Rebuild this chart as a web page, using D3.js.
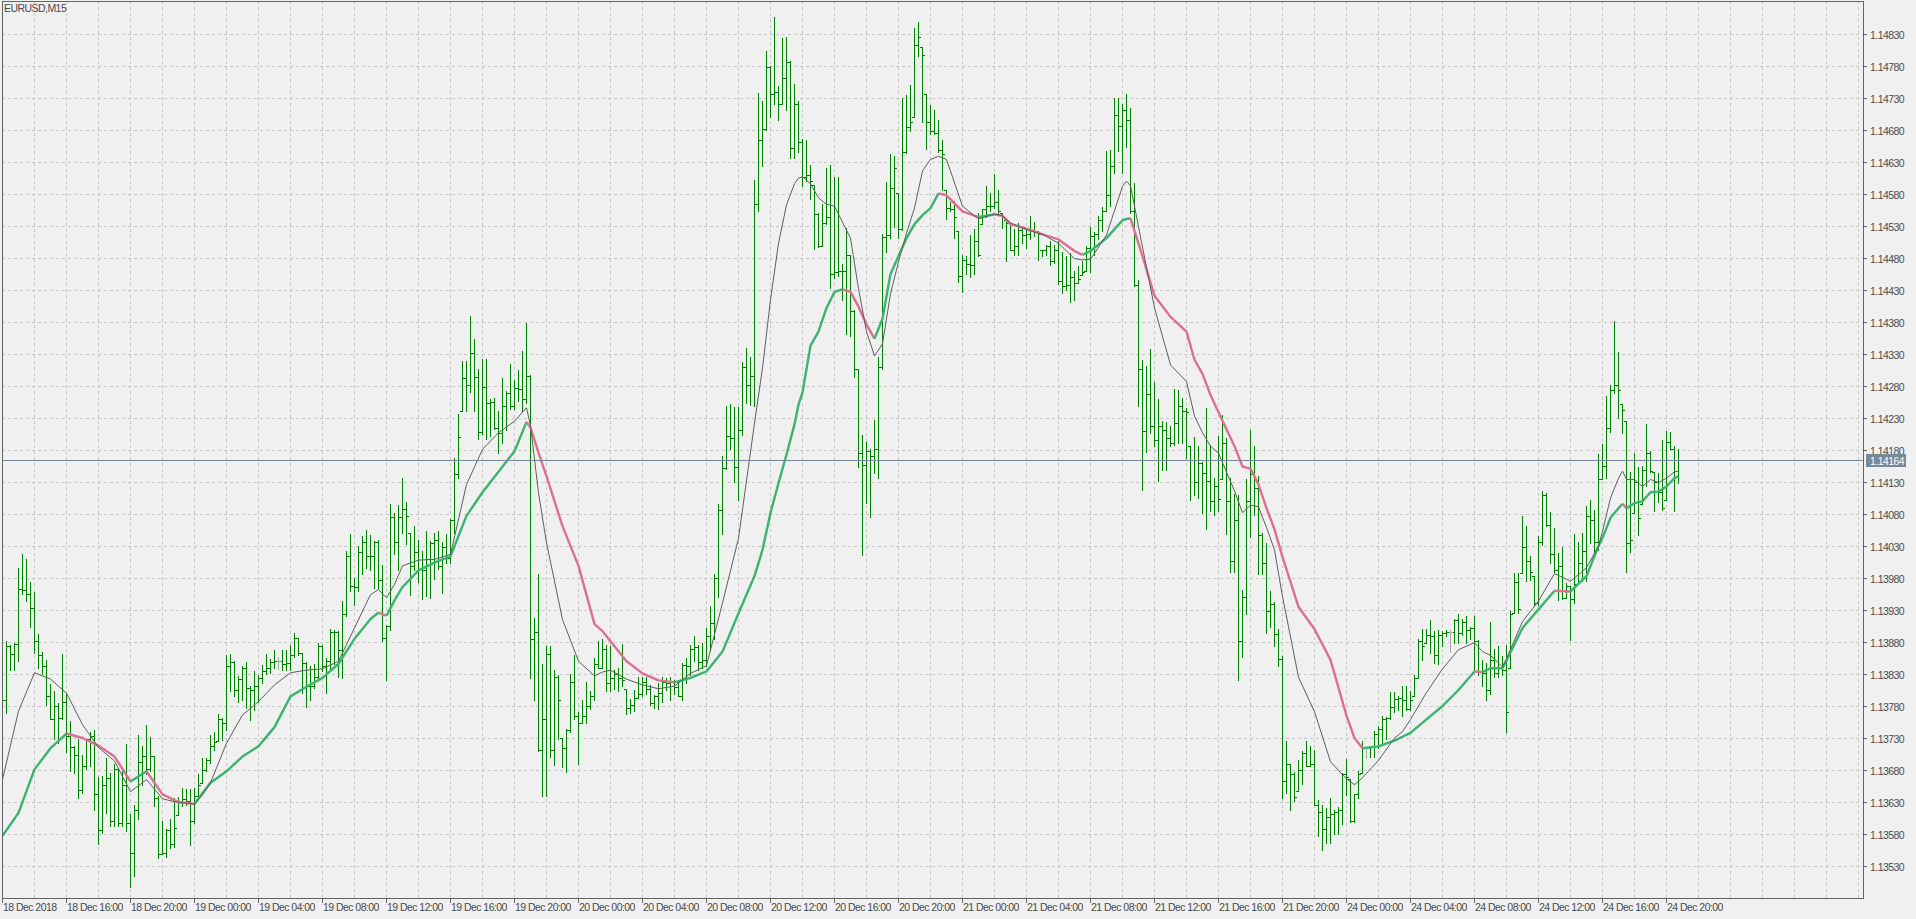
<!DOCTYPE html>
<html><head><meta charset="utf-8">
<script src="https://cdn.jsdelivr.net/npm/d3@7"></script>
<style>
html,body{margin:0;padding:0;background:#f0f0f0;overflow:hidden}
svg{display:block}
text{font-family:"Liberation Sans",Arial,sans-serif;font-size:10.5px;letter-spacing:-0.55px;fill:#4a4a4a}
</style></head><body>
<svg id="c" width="1916" height="919"></svg>
<script>
const symbolLabel = "EURUSD,M15";
const timeLabels = ["18 Dec 2018","18 Dec 16:00","18 Dec 20:00","19 Dec 00:00","19 Dec 04:00","19 Dec 08:00","19 Dec 12:00","19 Dec 16:00","19 Dec 20:00","20 Dec 00:00","20 Dec 04:00","20 Dec 08:00","20 Dec 12:00","20 Dec 16:00","20 Dec 20:00","21 Dec 00:00","21 Dec 04:00","21 Dec 08:00","21 Dec 12:00","21 Dec 16:00","21 Dec 20:00","24 Dec 00:00","24 Dec 04:00","24 Dec 08:00","24 Dec 12:00","24 Dec 16:00","24 Dec 20:00"];
const priceTicks = [1.14830,1.14780,1.14730,1.14680,1.14630,1.14580,1.14530,1.14480,1.14430,1.14380,1.14330,1.14280,1.14230,1.14180,1.14130,1.14080,1.14030,1.13980,1.13930,1.13880,1.13830,1.13780,1.13730,1.13680,1.13630,1.13580,1.13530];
const bidPrice = 1.14164;

const opens = [
1.13760,1.13790,1.13874,1.13861,1.13877,1.13963,1.13961,1.13955,1.13933,1.13881,1.13859,1.13842,1.13795,1.13760,1.13780,1.13761,1.13786,1.13733,1.13716,1.13704,
1.13649,1.13686,1.13728,1.13733,1.13643,1.13586,1.13656,1.13667,1.13601,1.13681,1.13597,1.13657,1.13597,1.13550,1.13618,1.13692,1.13702,1.13681,1.13702,1.13636,
1.13549,1.13551,1.13587,1.13565,1.13610,1.13632,1.13634,1.13632,1.13600,1.13639,1.13659,1.13680,1.13695,1.13717,1.13725,1.13759,1.13753,1.13842,1.13849,1.13805,
1.13822,1.13839,1.13808,1.13805,1.13812,1.13824,1.13835,1.13840,1.13849,1.13850,1.13850,1.13846,1.13847,1.13860,1.13886,1.13863,1.13847,1.13812,1.13811,1.13826,
1.13873,1.13842,1.13850,1.13896,1.13895,1.13868,1.13924,1.14015,1.13968,1.13966,1.14020,1.14037,1.14015,1.14014,1.14037,1.13977,1.13886,1.13905,1.14076,1.14037,
1.14076,1.14088,1.14051,1.13999,1.14020,1.13994,1.13993,1.14009,1.14034,1.14040,1.13999,1.14029,1.14012,1.14071,1.14143,1.14241,1.14292,1.14281,1.14332,1.14294,
1.14208,1.14279,1.14254,1.14255,1.14215,1.14206,1.14248,1.14269,1.14249,1.14277,1.14275,1.14259,1.14296,1.13884,1.13896,1.13712,1.13760,1.13862,1.13712,1.13826,
1.13730,1.13714,1.13743,1.13817,1.13764,1.13754,1.13764,1.13780,1.13796,1.13845,1.13840,1.13869,1.13816,1.13824,1.13830,1.13824,1.13807,1.13777,1.13781,1.13793,
1.13798,1.13818,1.13806,1.13784,1.13795,1.13800,1.13818,1.13816,1.13818,1.13810,1.13795,1.13844,1.13842,1.13869,1.13872,1.13849,1.13852,1.13889,1.13910,1.13980,
1.14086,1.14152,1.14202,1.14199,1.14154,1.14212,1.14310,1.14282,1.14295,1.14564,1.14665,1.14682,1.14778,1.14736,1.14740,1.14721,1.14761,1.14786,1.14652,1.14721,
1.14661,1.14607,1.14610,1.14594,1.14549,1.14499,1.14535,1.14544,1.14455,1.14458,1.14460,1.14459,1.14485,1.14397,1.14307,1.14175,1.14157,1.14178,1.14171,1.14181,
1.14309,1.14513,1.14516,1.14589,1.14582,1.14526,1.14645,1.14685,1.14701,1.14813,1.14810,1.14737,1.14692,1.14678,1.14676,1.14648,1.14586,1.14558,1.14557,1.14522,
1.14452,1.14477,1.14470,1.14469,1.14506,1.14533,1.14557,1.14561,1.14562,1.14567,1.14550,1.14540,1.14534,1.14492,1.14498,1.14524,1.14516,1.14518,1.14524,1.14522,
1.14493,1.14492,1.14498,1.14475,1.14493,1.14444,1.14436,1.14438,1.14451,1.14441,1.14454,1.14459,1.14496,1.14514,1.14518,1.14539,1.14554,1.14579,1.14623,1.14704,
1.14686,1.14712,1.14696,1.14553,1.14438,1.14306,1.14210,1.14267,1.14217,1.14196,1.14217,1.14211,1.14199,1.14191,1.14222,1.14248,1.14241,1.14186,1.14165,1.14130,
1.14160,1.14144,1.14132,1.14101,1.14124,1.14134,1.14191,1.14101,1.14007,1.14070,1.13882,1.13950,1.14101,1.14143,1.14121,1.14047,1.14004,1.13929,1.13940,1.13892,
1.13853,1.13663,1.13689,1.13674,1.13647,1.13680,1.13706,1.13687,1.13689,1.13626,1.13614,1.13588,1.13606,1.13612,1.13614,1.13617,1.13674,1.13666,1.13601,1.13642,
1.13675,1.13714,1.13714,1.13716,1.13736,1.13744,1.13760,1.13761,1.13778,1.13791,1.13792,1.13789,1.13775,1.13795,1.13824,1.13882,1.13878,1.13891,1.13889,1.13860,
1.13891,1.13894,1.13895,1.13895,1.13915,1.13894,1.13912,1.13899,1.13902,1.13881,1.13834,1.13832,1.13805,1.13852,1.13832,1.13841,1.13837,1.13840,1.13925,1.13973,
1.13988,1.14029,1.14007,1.13983,1.13941,1.14036,1.14109,1.14063,1.14018,1.13993,1.13998,1.13949,1.13967,1.13947,1.13970,1.14003,1.14022,1.14077,1.14071,1.14036,
1.14135,1.14155,1.14214,1.14274,1.14282,1.14252,1.14226,1.14035,1.14082,1.14130,1.14096,1.14149,1.14175,1.14146,1.14130,1.14115,1.14102,1.14192,1.14182,1.14165];

const highs = [
1.13800,1.13881,1.13876,1.13879,1.13995,1.14018,1.14009,1.13974,1.13958,1.13893,1.13865,1.13852,1.13815,1.13803,1.13784,1.13861,1.13800,1.13756,1.13717,1.13728,
1.13704,1.13729,1.13740,1.13743,1.13669,1.13670,1.13699,1.13675,1.13690,1.13683,1.13679,1.13721,1.13612,1.13626,1.13735,1.13718,1.13750,1.13731,1.13702,1.13640,
1.13601,1.13588,1.13603,1.13636,1.13638,1.13652,1.13651,1.13651,1.13652,1.13673,1.13699,1.13699,1.13734,1.13739,1.13767,1.13761,1.13859,1.13861,1.13850,1.13827,
1.13842,1.13848,1.13811,1.13834,1.13829,1.13844,1.13862,1.13853,1.13868,1.13857,1.13868,1.13868,1.13875,1.13894,1.13887,1.13863,1.13848,1.13842,1.13845,1.13878,
1.13875,1.13855,1.13900,1.13898,1.13897,1.13944,1.14022,1.14048,1.13980,1.14030,1.14045,1.14055,1.14047,1.14038,1.14040,1.14001,1.13907,1.14096,1.14082,1.14094,
1.14137,1.14099,1.14051,1.14061,1.14040,1.14022,1.14054,1.14038,1.14051,1.14053,1.14037,1.14048,1.14072,1.14168,1.14236,1.14319,1.14319,1.14389,1.14354,1.14306,
1.14322,1.14322,1.14260,1.14261,1.14241,1.14292,1.14272,1.14315,1.14289,1.14305,1.14335,1.14378,1.14297,1.13918,1.13987,1.13845,1.13874,1.13874,1.13837,1.13828,
1.13730,1.13744,1.13830,1.13859,1.13770,1.13790,1.13818,1.13804,1.13855,1.13882,1.13885,1.13876,1.13873,1.13837,1.13839,1.13877,1.13807,1.13791,1.13805,1.13826,
1.13825,1.13825,1.13813,1.13797,1.13816,1.13825,1.13824,1.13825,1.13821,1.13821,1.13847,1.13855,1.13876,1.13890,1.13875,1.13879,1.13902,1.13937,1.13987,1.14095,
1.14171,1.14248,1.14252,1.14247,1.14247,1.14318,1.14340,1.14326,1.14602,1.14738,1.14726,1.14804,1.14780,1.14856,1.14749,1.14823,1.14825,1.14788,1.14752,1.14726,
1.14666,1.14664,1.14625,1.14594,1.14550,1.14565,1.14620,1.14625,1.14606,1.14606,1.14470,1.14527,1.14485,1.14398,1.14307,1.14203,1.14192,1.14181,1.14227,1.14325,
1.14517,1.14599,1.14642,1.14639,1.14582,1.14730,1.14734,1.14751,1.14839,1.14848,1.14810,1.14737,1.14719,1.14712,1.14695,1.14665,1.14586,1.14568,1.14569,1.14522,
1.14484,1.14483,1.14516,1.14525,1.14550,1.14557,1.14593,1.14581,1.14611,1.14586,1.14550,1.14540,1.14535,1.14526,1.14535,1.14529,1.14527,1.14546,1.14537,1.14522,
1.14493,1.14500,1.14506,1.14500,1.14506,1.14490,1.14483,1.14488,1.14459,1.14467,1.14475,1.14499,1.14529,1.14521,1.14546,1.14560,1.14647,1.14648,1.14730,1.14730,
1.14720,1.14737,1.14714,1.14597,1.14446,1.14321,1.14312,1.14338,1.14287,1.14259,1.14225,1.14224,1.14217,1.14275,1.14273,1.14262,1.14245,1.14186,1.14200,1.14186,
1.14161,1.14246,1.14188,1.14137,1.14202,1.14234,1.14199,1.14136,1.14111,1.14110,1.13962,1.14134,1.14211,1.14186,1.14139,1.14051,1.14035,1.13960,1.13942,1.13900,
1.13858,1.13726,1.13690,1.13677,1.13695,1.13709,1.13726,1.13717,1.13711,1.13633,1.13625,1.13620,1.13636,1.13617,1.13622,1.13676,1.13697,1.13666,1.13643,1.13679,
1.13726,1.13714,1.13718,1.13741,1.13748,1.13765,1.13763,1.13802,1.13802,1.13795,1.13811,1.13811,1.13803,1.13829,1.13884,1.13900,1.13900,1.13915,1.13897,1.13899,
1.13897,1.13898,1.13899,1.13916,1.13923,1.13916,1.13920,1.13904,1.13920,1.13883,1.13852,1.13847,1.13911,1.13869,1.13874,1.13858,1.13876,1.13928,1.13988,1.13988,
1.14077,1.14062,1.14015,1.13983,1.14045,1.14116,1.14113,1.14083,1.14058,1.14019,1.14028,1.13972,1.13968,1.14048,1.14036,1.14050,1.14093,1.14102,1.14087,1.14173,
1.14190,1.14265,1.14282,1.14382,1.14333,1.14252,1.14226,1.14146,1.14175,1.14154,1.14155,1.14220,1.14178,1.14146,1.14144,1.14195,1.14210,1.14208,1.14187,1.14182];

const lows = [
1.13740,1.13769,1.13837,1.13837,1.13850,1.13955,1.13944,1.13904,1.13863,1.13840,1.13830,1.13782,1.13759,1.13728,1.13722,1.13759,1.13708,1.13678,1.13675,1.13637,
1.13644,1.13681,1.13686,1.13617,1.13565,1.13582,1.13613,1.13592,1.13592,1.13592,1.13593,1.13584,1.13497,1.13514,1.13604,1.13656,1.13673,1.13678,1.13623,1.13543,
1.13548,1.13544,1.13558,1.13560,1.13610,1.13623,1.13626,1.13563,1.13597,1.13634,1.13659,1.13678,1.13691,1.13712,1.13725,1.13727,1.13743,1.13803,1.13795,1.13786,
1.13790,1.13777,1.13758,1.13774,1.13786,1.13816,1.13830,1.13831,1.13839,1.13838,1.13837,1.13837,1.13837,1.13857,1.13860,1.13800,1.13778,1.13790,1.13808,1.13822,
1.13834,1.13801,1.13838,1.13846,1.13826,1.13823,1.13920,1.13959,1.13938,1.13960,1.13987,1.13995,1.13993,1.13964,1.13964,1.13881,1.13820,1.13899,1.14017,1.13993,
1.14051,1.14033,1.13953,1.13993,1.13973,1.13947,1.13952,1.13949,1.13979,1.13994,1.13956,1.14004,1.14004,1.14051,1.14137,1.14241,1.14241,1.14270,1.14241,1.14197,
1.14205,1.14197,1.14202,1.14213,1.14176,1.14191,1.14212,1.14244,1.14244,1.14257,1.14241,1.14254,1.13824,1.13790,1.13710,1.13639,1.13639,1.13701,1.13688,1.13728,
1.13684,1.13677,1.13740,1.13759,1.13689,1.13753,1.13754,1.13775,1.13790,1.13840,1.13839,1.13803,1.13803,1.13806,1.13803,1.13811,1.13768,1.13769,1.13772,1.13793,
1.13795,1.13798,1.13782,1.13777,1.13775,1.13787,1.13805,1.13790,1.13798,1.13795,1.13790,1.13816,1.13829,1.13850,1.13837,1.13839,1.13842,1.13866,1.13884,1.13950,
1.14049,1.14150,1.14181,1.14130,1.14102,1.14203,1.14253,1.14251,1.14248,1.14553,1.14623,1.14680,1.14701,1.14720,1.14695,1.14720,1.14711,1.14636,1.14637,1.14645,
1.14593,1.14600,1.14572,1.14494,1.14497,1.14499,1.14533,1.14433,1.14449,1.14452,1.14414,1.14362,1.14358,1.14294,1.14153,1.14016,1.14097,1.14076,1.14144,1.14136,
1.14307,1.14490,1.14511,1.14529,1.14511,1.14524,1.14644,1.14678,1.14701,1.14796,1.14692,1.14650,1.14673,1.14673,1.14645,1.14586,1.14541,1.14553,1.14511,1.14443,
1.14427,1.14455,1.14450,1.14455,1.14483,1.14533,1.14544,1.14553,1.14558,1.14550,1.14527,1.14475,1.14492,1.14485,1.14484,1.14503,1.14496,1.14509,1.14514,1.14477,
1.14483,1.14485,1.14469,1.14472,1.14440,1.14425,1.14430,1.14411,1.14415,1.14441,1.14454,1.14459,1.14458,1.14485,1.14509,1.14522,1.14553,1.14561,1.14613,1.14647,
1.14613,1.14654,1.14550,1.14437,1.14248,1.14117,1.14177,1.14207,1.14187,1.14132,1.14149,1.14148,1.14186,1.14188,1.14191,1.14191,1.14168,1.14102,1.14110,1.14105,
1.14081,1.14056,1.14084,1.14078,1.14085,1.14134,1.14048,1.13989,1.13989,1.13820,1.13856,1.13924,1.14044,1.14078,1.13986,1.13986,1.13894,1.13904,1.13873,1.13842,
1.13636,1.13644,1.13617,1.13631,1.13647,1.13658,1.13686,1.13686,1.13625,1.13577,1.13555,1.13566,1.13566,1.13580,1.13580,1.13596,1.13641,1.13598,1.13598,1.13636,
1.13675,1.13698,1.13701,1.13701,1.13714,1.13720,1.13728,1.13760,1.13771,1.13773,1.13764,1.13774,1.13774,1.13795,1.13824,1.13852,1.13878,1.13863,1.13847,1.13845,
1.13873,1.13890,1.13864,1.13878,1.13879,1.13891,1.13878,1.13884,1.13837,1.13829,1.13811,1.13789,1.13799,1.13825,1.13826,1.13829,1.13739,1.13840,1.13925,1.13925,
1.13988,1.13975,1.13977,1.13936,1.13938,1.14032,1.14061,1.14004,1.13990,1.13946,1.13947,1.13949,1.13883,1.13941,1.13970,1.13975,1.13975,1.14035,1.14019,1.14024,
1.14134,1.14136,1.14208,1.14269,1.14230,1.14207,1.13989,1.14021,1.14082,1.14047,1.14096,1.14123,1.14146,1.14084,1.14099,1.14086,1.14102,1.14181,1.14084,1.14129];

const closes = [
1.13790,1.13874,1.13861,1.13877,1.13963,1.13961,1.13955,1.13933,1.13881,1.13859,1.13842,1.13795,1.13760,1.13780,1.13761,1.13786,1.13733,1.13716,1.13704,1.13649,
1.13686,1.13728,1.13733,1.13643,1.13586,1.13656,1.13667,1.13601,1.13681,1.13597,1.13657,1.13597,1.13550,1.13618,1.13692,1.13702,1.13681,1.13702,1.13636,1.13549,
1.13551,1.13587,1.13565,1.13590,1.13632,1.13634,1.13632,1.13600,1.13639,1.13657,1.13680,1.13695,1.13717,1.13723,1.13759,1.13753,1.13842,1.13849,1.13805,1.13822,
1.13839,1.13808,1.13805,1.13812,1.13824,1.13835,1.13840,1.13849,1.13850,1.13850,1.13846,1.13847,1.13860,1.13886,1.13863,1.13847,1.13812,1.13811,1.13826,1.13873,
1.13842,1.13850,1.13896,1.13895,1.13868,1.13924,1.14015,1.13968,1.13966,1.14020,1.14037,1.14015,1.14014,1.14037,1.13977,1.13886,1.13905,1.14076,1.14037,1.14076,
1.14088,1.14077,1.13999,1.14020,1.13994,1.13993,1.14009,1.14034,1.14040,1.13999,1.14029,1.14012,1.14071,1.14143,1.14201,1.14292,1.14281,1.14332,1.14294,1.14208,
1.14279,1.14254,1.14255,1.14215,1.14206,1.14248,1.14269,1.14249,1.14277,1.14275,1.14259,1.14296,1.13884,1.13896,1.13712,1.13760,1.13862,1.13712,1.13826,1.13790,
1.13714,1.13743,1.13817,1.13764,1.13754,1.13764,1.13780,1.13796,1.13845,1.13840,1.13869,1.13816,1.13824,1.13830,1.13824,1.13821,1.13777,1.13781,1.13793,1.13798,
1.13818,1.13806,1.13784,1.13795,1.13800,1.13818,1.13816,1.13818,1.13810,1.13795,1.13844,1.13842,1.13869,1.13872,1.13849,1.13852,1.13889,1.13910,1.13980,1.14086,
1.14152,1.14202,1.14199,1.14154,1.14212,1.14310,1.14282,1.14295,1.14564,1.14665,1.14682,1.14778,1.14736,1.14740,1.14721,1.14761,1.14786,1.14652,1.14721,1.14661,
1.14607,1.14610,1.14601,1.14549,1.14498,1.14535,1.14544,1.14455,1.14458,1.14460,1.14459,1.14485,1.14397,1.14307,1.14175,1.14157,1.14178,1.14171,1.14181,1.14309,
1.14513,1.14516,1.14589,1.14621,1.14526,1.14645,1.14685,1.14692,1.14813,1.14825,1.14797,1.14692,1.14678,1.14676,1.14648,1.14642,1.14558,1.14557,1.14544,1.14452,
1.14477,1.14470,1.14469,1.14506,1.14484,1.14557,1.14561,1.14562,1.14567,1.14553,1.14544,1.14534,1.14492,1.14498,1.14524,1.14516,1.14518,1.14524,1.14522,1.14518,
1.14492,1.14498,1.14475,1.14493,1.14444,1.14436,1.14438,1.14451,1.14441,1.14447,1.14458,1.14496,1.14514,1.14518,1.14539,1.14554,1.14579,1.14623,1.14704,1.14686,
1.14712,1.14696,1.14553,1.14438,1.14306,1.14210,1.14267,1.14217,1.14196,1.14217,1.14211,1.14199,1.14191,1.14222,1.14248,1.14241,1.14239,1.14165,1.14130,1.14160,
1.14144,1.14132,1.14101,1.14124,1.14103,1.14191,1.14101,1.14007,1.14070,1.13882,1.13950,1.14101,1.14143,1.14121,1.14047,1.14004,1.13929,1.13940,1.13892,1.13853,
1.13663,1.13689,1.13674,1.13638,1.13680,1.13706,1.13687,1.13689,1.13626,1.13614,1.13588,1.13606,1.13612,1.13614,1.13617,1.13674,1.13669,1.13601,1.13642,1.13674,
1.13714,1.13714,1.13716,1.13736,1.13744,1.13760,1.13761,1.13778,1.13791,1.13792,1.13789,1.13775,1.13790,1.13824,1.13882,1.13874,1.13891,1.13889,1.13860,1.13891,
1.13894,1.13895,1.13895,1.13915,1.13894,1.13912,1.13899,1.13902,1.13881,1.13834,1.13832,1.13805,1.13852,1.13832,1.13841,1.13837,1.13770,1.13924,1.13973,1.13932,
1.14029,1.14007,1.13990,1.13941,1.14036,1.14109,1.14063,1.14018,1.13993,1.13998,1.13949,1.13967,1.13947,1.13970,1.14003,1.14022,1.14077,1.14071,1.14036,1.14135,
1.14155,1.14214,1.14274,1.14282,1.14274,1.14243,1.14035,1.14040,1.14130,1.14074,1.14149,1.14175,1.14147,1.14130,1.14115,1.14090,1.14192,1.14182,1.14165,1.14164];

// moving averages at these bar positions
const maIndex = [0,4,8,12,16,20,24,28,32,36,40,44,48,50,52,56,60,64,68,72,76,80,84,88,92,94,96,98,
100,104,108,112,116,120,124,128,131,132,134,136,140,144,148,
150,152,156,160,164,168,172,176,180,184,188,190,192,194,196,198,199,
200,202,204,206,208,210,212,214,216,218,220,222,224,226,228,230,232,234,236,240,244,248,
250,252,256,260,264,268,270,272,276,280,281,282,284,288,292,296,298,
300,302,304,308,310,312,314,316,318,320,324,328,332,336,338,340,344,348,
350,352,356,360,364,368,370,372,375,376,380,384,388,392,396,399,
400,402,404,405,406,408,410,412,414,416,418,419];
const maFast = [1.13665,1.13772,1.13832,1.13822,1.13800,1.13751,1.13715,1.13694,1.13646,1.13665,1.13635,1.13629,1.13627,1.13641,1.13660,1.13722,1.13766,1.13787,1.13813,1.13832,1.13836,1.13838,1.13850,1.13902,1.13954,1.13962,1.13949,1.13970,
1.13999,1.14008,1.14009,1.14017,1.14126,1.14181,1.14207,1.14225,1.14246,1.14218,1.14113,1.14035,1.13915,1.13850,1.13827,
1.13833,1.13836,1.13822,1.13813,1.13807,1.13811,1.13831,1.13843,1.13941,1.14042,1.14222,1.14308,1.14415,1.14503,1.14563,1.14596,1.14605,
1.14607,1.14596,1.14574,1.14564,1.14561,1.14536,1.14511,1.14432,1.14365,1.14327,1.14346,1.14424,1.14474,1.14519,1.14558,1.14616,1.14634,1.14639,1.14634,1.14561,1.14541,1.14549,
1.14546,1.14535,1.14524,1.14517,1.14503,1.14479,1.14477,1.14478,1.14516,1.14592,1.14600,1.14593,1.14529,1.14402,1.14313,1.14287,1.14233,
1.14207,1.14186,1.14175,1.14116,1.14082,1.14094,1.14091,1.14059,1.14024,1.13951,1.13825,1.13771,1.13693,1.13666,1.13657,1.13668,1.13695,1.13730,
1.13740,1.13759,1.13801,1.13838,1.13868,1.13879,1.13865,1.13859,1.13841,1.13854,1.13912,1.13944,1.13987,1.13975,1.13996,1.14030,
1.14053,1.14105,1.14136,1.14147,1.14134,1.14134,1.14123,1.14134,1.14129,1.14136,1.14146,1.14147];
const maSlow = [1.13577,1.13613,1.13681,1.13714,1.13737,1.13730,1.13718,1.13701,1.13662,1.13678,1.13642,1.13630,1.13627,1.13644,1.13660,1.13678,1.13701,1.13717,1.13747,1.13795,1.13810,1.13824,1.13846,1.13885,1.13916,1.13926,1.13921,1.13945,
1.13966,1.13992,1.14004,1.14014,1.14077,1.14114,1.14146,1.14178,1.14224,1.14215,1.14176,1.14139,1.14061,1.13999,1.13908,
1.13897,1.13881,1.13850,1.13831,1.13820,1.13817,1.13824,1.13834,1.13865,1.13925,1.13983,1.14024,1.14082,1.14128,1.14173,1.14220,1.14251,
1.14270,1.14343,1.14365,1.14402,1.14427,1.14431,1.14427,1.14404,1.14376,1.14354,1.14385,1.14455,1.14483,1.14511,1.14533,1.14547,1.14558,1.14581,1.14578,1.14553,1.14544,1.14548,
1.14546,1.14533,1.14526,1.14517,1.14509,1.14491,1.14485,1.14491,1.14511,1.14539,1.14541,1.14542,1.14503,1.14421,1.14388,1.14365,1.14321,
1.14299,1.14266,1.14239,1.14186,1.14154,1.14151,1.14126,1.14089,1.14056,1.14013,1.13935,1.13900,1.13852,1.13765,1.13730,1.13714,1.13717,1.13726,
1.13732,1.13738,1.13759,1.13780,1.13805,1.13834,1.13833,1.13839,1.13839,1.13851,1.13902,1.13931,1.13960,1.13959,1.13983,1.14030,
1.14043,1.14074,1.14089,1.14096,1.14089,1.14097,1.14100,1.14114,1.14115,1.14123,1.14136,1.14139];

// ---------- drawing ----------
const W = 1916, H = 919;
const L = 2, R = 1863, T = 1, B = 898;
const COL = {bg:"#f0f0f0", grid:"#c8c8c8", frame:"#646464", bar:"#008000", doji:"#a8a8a8",
             fast:"#5e5e5e", up:"#3cb371", down:"#db7093", bid:"#778899", text:"#4a4a4a"};

const svg = d3.select("#c");
const n = closes.length;
const x = d3.scaleLinear().domain([0, n - 1]).range([L, L + 4 * (n - 1)]);
const y = d3.scaleLinear().domain([1.1348, 1.1483]).range([B, 34]);
const py = p => Math.round(y(p));

svg.append("rect").attr("width", W).attr("height", H).attr("fill", COL.bg);

svg.append("defs").append("clipPath").attr("id", "plot")
  .append("rect").attr("x", L + 1).attr("y", T + 1).attr("width", R - L - 1).attr("height", B - T - 1);

// grid
const grid = svg.append("g").attr("stroke", COL.grid).attr("stroke-width", 1)
  .attr("stroke-dasharray", "3,3").attr("shape-rendering", "crispEdges");
grid.selectAll("line.h").data(priceTicks).join("line").attr("class", "h")
  .attr("x1", L).attr("x2", R).attr("y1", d => py(d) + 0.5).attr("y2", d => py(d) + 0.5);
const vIdx = d3.range(8, 480, 8).filter(i => x(i) < R - 1);
grid.selectAll("line.v").data(vIdx).join("line").attr("class", "v")
  .attr("x1", d => x(d) + 0.5).attr("x2", d => x(d) + 0.5).attr("y1", T).attr("y2", B);

// bars
const plot = svg.append("g").attr("clip-path", "url(#plot)");
const bars = plot.append("g").attr("shape-rendering", "crispEdges");
const idx = d3.range(n);
const barColor = i => opens[i] === closes[i] ? COL.doji : COL.bar;
bars.selectAll("rect.hl").data(idx).join("rect").attr("class", "hl")
  .attr("x", i => x(i)).attr("width", 1)
  .attr("y", i => py(highs[i]))
  .attr("height", i => Math.max(1, py(lows[i]) - py(highs[i]) + 1))
  .attr("fill", barColor);
bars.selectAll("rect.o").data(idx).join("rect").attr("class", "o")
  .attr("x", i => x(i) - 2).attr("width", 2).attr("y", i => py(opens[i])).attr("height", 1)
  .attr("fill", barColor);
bars.selectAll("rect.c").data(idx).join("rect").attr("class", "c")
  .attr("x", i => x(i) + 1).attr("width", 2).attr("y", i => py(closes[i])).attr("height", 1)
  .attr("fill", barColor);

// moving averages
const slowPts = maIndex.map((i, k) => ({i, v: maSlow[k]}));
const fastPts = maIndex.map((i, k) => ({i, v: maFast[k]}));
const line = d3.line().x(d => x(d.i) + 0.5).y(d => y(d.v));
let runs = [];
for (let k = 0; k < slowPts.length - 1; k++) {
  const c = slowPts[k + 1].v < slowPts[k].v ? COL.down : COL.up;
  if (runs.length && runs[runs.length - 1].c === c) runs[runs.length - 1].pts.push(slowPts[k + 1]);
  else runs.push({c, pts: [slowPts[k], slowPts[k + 1]]});
}
plot.append("g").selectAll("path").data(runs).join("path")
  .attr("d", r => line(r.pts)).attr("fill", "none").attr("stroke", r => r.c)
  .attr("stroke-width", 2.4).attr("stroke-linejoin", "round");
plot.append("path").attr("d", line(fastPts)).attr("fill", "none")
  .attr("stroke", COL.fast).attr("stroke-width", 1);

// bid line
plot.append("line").attr("x1", L).attr("x2", R).attr("y1", py(bidPrice) + 0.5).attr("y2", py(bidPrice) + 0.5)
  .attr("stroke", COL.bid).attr("stroke-width", 1).attr("shape-rendering", "crispEdges");

// frame
svg.append("rect").attr("x", L + 0.5).attr("y", T + 0.5).attr("width", R - L).attr("height", B - T)
  .attr("fill", "none").attr("stroke", COL.frame).attr("stroke-width", 1).attr("shape-rendering", "crispEdges");

// price axis
const pa = svg.append("g");
pa.selectAll("line").data(priceTicks).join("line")
  .attr("x1", R).attr("x2", R + 4).attr("y1", d => py(d) + 0.5).attr("y2", d => py(d) + 0.5)
  .attr("stroke", COL.frame).attr("shape-rendering", "crispEdges");
pa.selectAll("text").data(priceTicks).join("text")
  .attr("x", R + 7).attr("y", d => py(d) + 4.5).text(d => d.toFixed(5));

// bid label
const by = py(bidPrice);
svg.append("rect").attr("x", R + 3).attr("y", by - 6).attr("width", 40).attr("height", 13).attr("fill", COL.bid);
svg.append("text").attr("x", R + 7).attr("y", by + 4.5).style("fill", "#ffffff").text(bidPrice.toFixed(5));

// time axis
const tIdx = timeLabels.map((_, k) => k * 16);
const ta = svg.append("g");
ta.selectAll("line").data(tIdx).join("line")
  .attr("x1", d => x(d) + 0.5).attr("x2", d => x(d) + 0.5).attr("y1", B).attr("y2", B + 5)
  .attr("stroke", COL.frame).attr("shape-rendering", "crispEdges");
ta.selectAll("text").data(timeLabels).join("text")
  .attr("x", (d, k) => x(tIdx[k]) + 1).attr("y", 911).text(d => d);

// symbol label
svg.append("text").attr("x", 4).attr("y", 12).text(symbolLabel);
</script>
</body></html>
